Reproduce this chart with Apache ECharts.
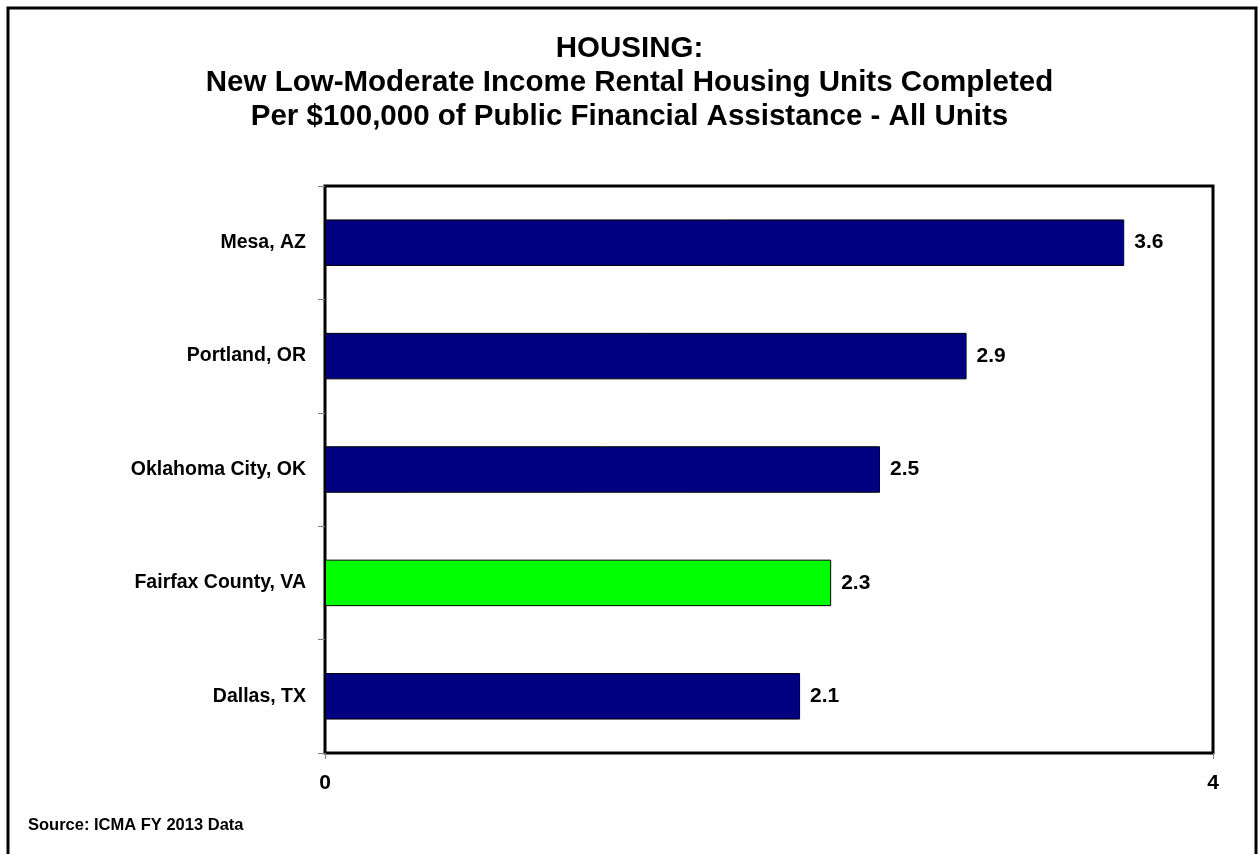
<!DOCTYPE html>
<html>
<head>
<meta charset="utf-8">
<script src="https://cdn.jsdelivr.net/npm/echarts@6/dist/echarts.min.js"></script>
<style>
html,body{margin:0;padding:0;background:#fff;}
#chart{width:1259px;height:854px;}
</style>
</head>
<body>
<div id="chart"></div>
<script>
// Data (top to bottom)
const categories = ['Mesa, AZ', 'Portland, OR', 'Oklahoma City, OK', 'Fairfax County, VA', 'Dallas, TX'];
const values = [3.6, 2.89, 2.5, 2.28, 2.14];
const barColors = ['#000080', '#000080', '#000080', '#00FF00', '#000080'];
const xTickLabels = ['0', '4'];
const titleLines = ['HOUSING:', 'New Low-Moderate Income Rental Housing Units Completed', 'Per $100,000 of Public Financial Assistance - All Units'];
const sourceText = 'Source: ICMA FY 2013 Data';

const FONT = '"Liberation Sans", Arial, sans-serif';
const chart = echarts.init(document.getElementById('chart'), null, {renderer: 'canvas'});

chart.setOption({
  animation: false,
  backgroundColor: '#fff',
  title: {
    text: titleLines.join('\n'),
    left: 'center',
    top: 27,
    textStyle: {fontFamily: FONT, fontSize: 29.5, fontWeight: 'bold', color: '#000', lineHeight: 34, align: 'center'}
  },
  graphic: [
    {type: 'rect', shape: {x: 8, y: 8, width: 1248, height: 900}, style: {fill: 'none', stroke: '#000', lineWidth: 3}, silent: true},
    {type: 'text', left: 28, top: 817, style: {text: sourceText, font: 'bold 16.5px ' + FONT, fill: '#000'}}
  ],
  grid: {left: 325, right: 46, top: 186, bottom: 101, show: true, borderColor: '#000', borderWidth: 3, backgroundColor: 'transparent'},
  xAxis: {
    type: 'value', min: 0, max: 4, interval: 4,
    axisLine: {show: false},
    axisTick: {show: true, length: 6, lineStyle: {color: '#808080'}},
    splitLine: {show: false},
    axisLabel: {margin: 20, fontFamily: FONT, fontSize: 21, fontWeight: 'bold', color: '#000',
      formatter: v => xTickLabels[xTickLabels.indexOf(String(v))] || ''}
  },
  yAxis: {
    type: 'category', data: categories, inverse: true,
    axisLine: {show: false},
    axisTick: {show: true, length: 7, lineStyle: {color: '#808080'}},
    axisLabel: {margin: 19, fontFamily: FONT, fontSize: 19.5, fontWeight: 'bold', color: '#000'}
  },
  series: [{
    type: 'bar',
    barWidth: '41%',
    data: values.map((v, i) => ({value: v, itemStyle: {color: barColors[i]}})),
    itemStyle: {borderColor: '#000', borderWidth: 1},
    label: {show: true, position: 'right', distance: 10, fontFamily: FONT, fontSize: 21, fontWeight: 'bold', color: '#000',
      formatter: p => p.value.toFixed(1)}
  }]
});
</script>
</body>
</html>
